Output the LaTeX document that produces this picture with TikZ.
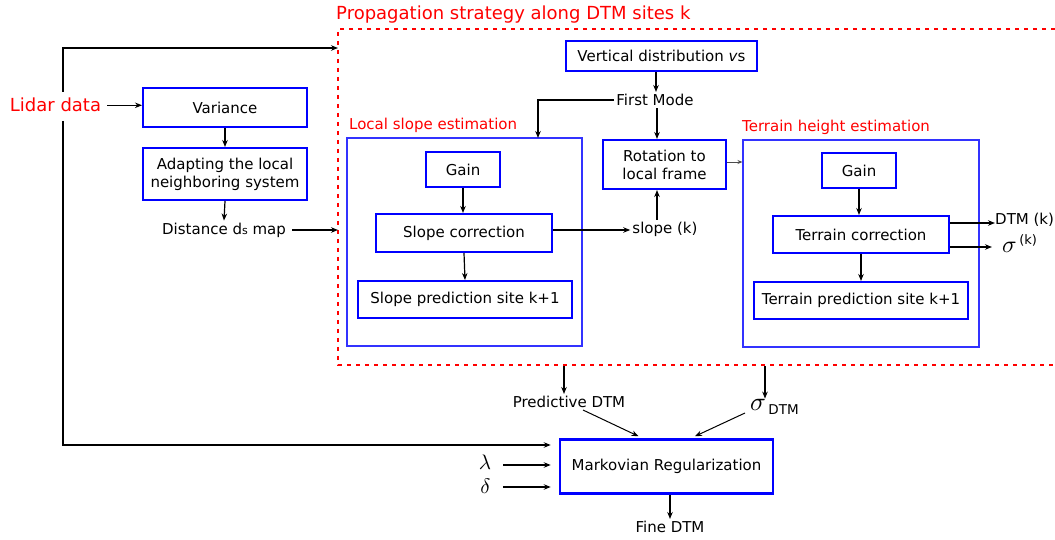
\RequirePackage{fix-cm}
\documentclass[tikz,border=0pt]{standalone}
\usepackage{fontspec}
\setmainfont{DejaVu Sans}
\usetikzlibrary{arrows.meta,calc}
\definecolor{frameblue}{RGB}{50,50,255}
\newcommand{\gk}[2]{{\fontsize{10}{10}\selectfont\scalebox{#1}{$#2$}}}
\begin{document}
\begin{tikzpicture}[x=1pt,y=-1pt,
  every node/.style={font=\fontsize{15}{18}\selectfont, inner sep=2pt},
  bbox/.style={draw=blue, line width=2pt, inner sep=0pt, align=center},
  gbox/.style={draw=blue, line width=1.3pt, inner sep=0pt},
  framebox/.style={draw=frameblue, line width=1.1pt, inner sep=0pt},
  arr/.style={-{Stealth[length=7pt,width=5.5pt]}, line width=1.2pt},
  thk/.style={line width=2pt},
  bigred/.style={text=red, font=\fontsize{18}{21}\selectfont},
  redlbl/.style={text=red, anchor=west, inner sep=0pt},
]
\useasboundingbox (0,0) rectangle (1055,540);

% dashed propagation frame
\draw[red, line width=2.5pt, dash pattern=on 4pt off 5pt] (1055,29) -- (338,29) -- (338,365) -- (1055,365);
\coordinate (ftop) at (338,48);
\coordinate (fdist) at (338,230);
\coordinate (fbot1) at (564,366);
\coordinate (fbot2) at (765,366);

\node[bigred, anchor=base west, inner sep=0pt] (title) at (336,20) {Propagation strategy along DTM sites k};
\node[bigred, anchor=base, inner sep=0pt] (lidar) at (55.5,112) {Lidar data};

% left column
\node[bbox, minimum width=164pt, minimum height=39pt] (var) at (225,108) {Variance};
\node[bbox, minimum width=164pt, minimum height=52pt] (adapt) at (225,174) {Adapting the local\\neighboring system};
\node (dist) at (224,230) {Distance d{\fontsize{11}{11}\selectfont s} map};

% top middle
\node[bbox, minimum width=191pt, minimum height=30pt] (vert) at (661.5,56) {Vertical distribution \textit{v}s};
\node (first) at (655,100) {First Mode};
\node[bbox, minimum width=123pt, minimum height=49pt] (rot) at (664.5,164.5) {Rotation to\\local frame};
\node (slopek) at (665,229) {slope (k)};

% local slope estimation
\node[redlbl] (lselbl) at (349,125) {Local slope estimation};
\node[framebox, minimum width=235pt, minimum height=208pt] (lse) at (464.5,242) {};
\coordinate (lsetop) at (538,138);
\node[gbox, minimum width=74pt, minimum height=35pt] (gain1) at (463,169.5) {Gain};
\node[bbox, minimum width=176pt, minimum height=38pt] (scorr) at (464,233) {Slope correction};
\node[bbox, minimum width=214pt, minimum height=37pt] (spred) at (465,299.5) {Slope prediction site k+1};

% terrain height estimation
\node[redlbl] (thelbl) at (742,127) {Terrain height estimation};
\node[framebox, minimum width=236pt, minimum height=207pt] (terr) at (861,243.5) {};
\node[gbox, minimum width=74pt, minimum height=35pt] (gain2) at (859,170.5) {Gain};
\node[bbox, minimum width=176pt, minimum height=37pt] (tcorr) at (861,234.5) {Terrain correction};
\node[bbox, minimum width=214pt, minimum height=37pt] (tpred) at (861,300.5) {Terrain prediction site k+1};
\node[anchor=west, inner sep=0pt] (dtmk) at (995,220) {DTM (k)};
\node[anchor=base west, inner sep=0pt] (sigk) at (1002,253) {\gk{2.4}{\sigma}\,\raisebox{8pt}{\fontsize{13}{13}\selectfont(k)}};

% bottom
\node (pred) at (569,402) {Predictive DTM};
\node[anchor=base west, inner sep=0pt] (sigdtm) at (750,410) {\gk{2.6}{\sigma}\,\raisebox{-4pt}{\fontsize{13.5}{14}\selectfont DTM}};
\node[bbox, line width=2.5pt, minimum width=213pt, minimum height=54pt] (markov) at (666.5,466.5) {Markovian Regularization};
\node[inner sep=0pt] (lam) at (485,462.5) {\gk{2.1}{\lambda}};
\node[inner sep=0pt] (del) at (485.5,486) {\gk{2.1}{\delta}};
\node (fine) at (670,527) {Fine DTM};

% connectors
\draw[arr, thk] (63,92) -- (63,48) -- (ftop);
\draw[arr, thk, shorten >=8pt] (63,121) |- (markov.west |- 0,445);
\draw[arr] (lidar.east) ++(6,0) coordinate (lid1) -- (lid1 -| var.west);
\draw[arr] (var.south) -- (adapt.north);
\draw[arr] (adapt.south) -- (dist.north);
\draw[arr] (dist.east) ++(4,0) coordinate (dist1) -- (dist1 -| fdist);

\draw[arr] (vert.south -| first.north) ++(1,0) coordinate (v1) -- (v1 |- first.north);
\draw[arr, line width=1.8pt] (first.west) -| (lsetop);
\draw[arr] (first.south) ++(2,0) coordinate (f1) -- (f1 |- rot.north);
\draw[arr] (slopek.north) ++(-8,0) coordinate (s1) -- (s1 |- rot.south);

\draw[arr] (gain1.south) -- (gain1.south |- scorr.north);
\draw[arr] (scorr.south) -- (spred.north);
\draw[arr] (scorr.east) ++(0,-3) coordinate (sc1) -- (sc1 -| slopek.west);

\draw[-{Stealth[length=5pt,width=4pt]}, line width=0.8pt, black!70] (rot.east) ++(0,-2.5) coordinate (r1) -- (r1 -| terr.west);

\draw[arr] (gain2.south) -- (gain2.south |- tcorr.north);
\draw[arr] (tcorr.south) -- (tcorr.south |- tpred.north);
\draw[arr] (tcorr.east) ++(0,-11.5) coordinate (t1) -- (t1 -| dtmk.west);
\draw[arr] (tcorr.east) ++(0,12.5) coordinate (t2) -- ($(t2 -| sigk.west)+(-10,0)$);

\draw[arr] (fbot1) -- (fbot1 |- pred.north);
\draw[arr] (fbot2) -- (fbot2 |- sigdtm.north);
\draw[arr, line width=1pt] ($(pred.south)+(14,0)$) -- ($(markov.north)+(-28,-2)$);
\draw[arr, line width=1pt] ($(sigdtm.base west)+(-5,3)$) -- ($(markov.north)+(28.5,-2)$);
\draw[arr, line width=1.5pt, shorten >=8pt] ($(lam.east)+(12,2.5)$) coordinate (l1) -- (l1 -| markov.west);
\draw[arr, line width=1.5pt, shorten >=8pt] ($(del.east)+(12,1)$) coordinate (d1) -- (d1 -| markov.west);
\draw[arr] (fine.north |- markov.south) -- (fine.north);
\end{tikzpicture}
\end{document}
